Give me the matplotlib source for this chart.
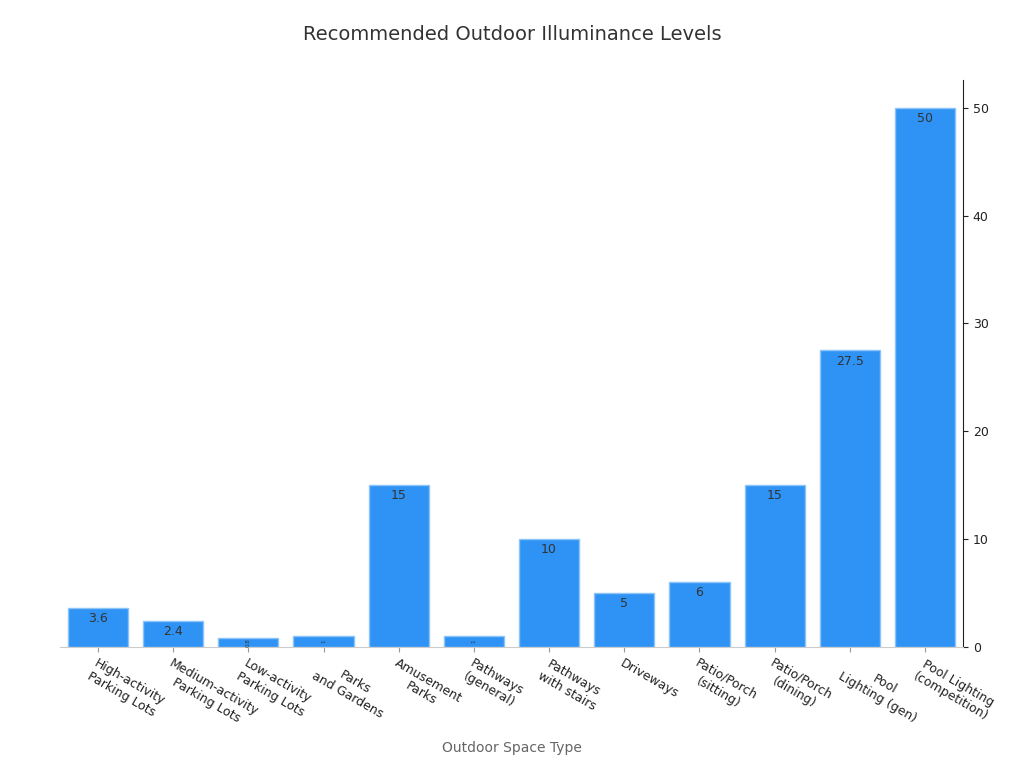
import matplotlib.pyplot as plt

categories = ["High-activity\nParking Lots", "Medium-activity\nParking Lots", "Low-activity\nParking Lots",
              "Parks\nand Gardens", "Amusement\nParks", "Pathways\n(general)", "Pathways\nwith stairs",
              "Driveways", "Patio/Porch\n(sitting)", "Patio/Porch\n(dining)", "Pool\nLighting (gen)",
              "Pool Lighting\n(competition)"]
values = [3.6, 2.4, 0.8, 1, 15, 1, 10, 5, 6, 15, 27.5, 50]
labels = ["3.6", "2.4", "0.8", "1", "15", "1", "10", "5", "6", "15", "27.5", "50"]

fig = plt.figure(figsize=(10.24, 7.68), dpi=100)
ax = fig.add_axes([0.0586, 0.158, 0.8818, 0.738])

x = range(len(values))
bars = ax.bar(x, values, width=0.8, color="#2E93F5", edgecolor="#8CC4F7", linewidth=1)

for b, v, lab in zip(bars, values, labels):
    cx = b.get_x() + b.get_width() / 2
    if v >= 2:
        ax.text(cx, v - 0.4, lab, ha="center", va="top", fontsize=9, color="#333333")
    else:
        ax.text(cx, v / 2, lab, ha="center", va="center", fontsize=4, rotation=90, color="#333333")

ax.set_xlim(-0.505, 11.505)
ax.set_ylim(0, 52.6)
ax.yaxis.tick_right()
ax.set_yticks([0, 10, 20, 30, 40, 50])
ax.tick_params(axis="y", labelsize=9, colors="#222222")
ax.tick_params(axis="x", color="#999999")
ax.set_xticks(list(x))
ax.set_xticklabels(categories, rotation=-30, ha="left", rotation_mode="anchor", fontsize=9,
                   multialignment="center", color="#222222")

ax.spines["left"].set_visible(False)
ax.spines["top"].set_visible(False)
ax.spines["bottom"].set_color("#cccccc")
ax.spines["right"].set_color("#222222")

ax.set_xlabel("Outdoor Space Type", fontsize=10, color="#666666", labelpad=7)
fig.suptitle("Recommended Outdoor Illuminance Levels", fontsize=14, color="#333333", y=0.968)

fig.savefig("out.png", dpi=100)
